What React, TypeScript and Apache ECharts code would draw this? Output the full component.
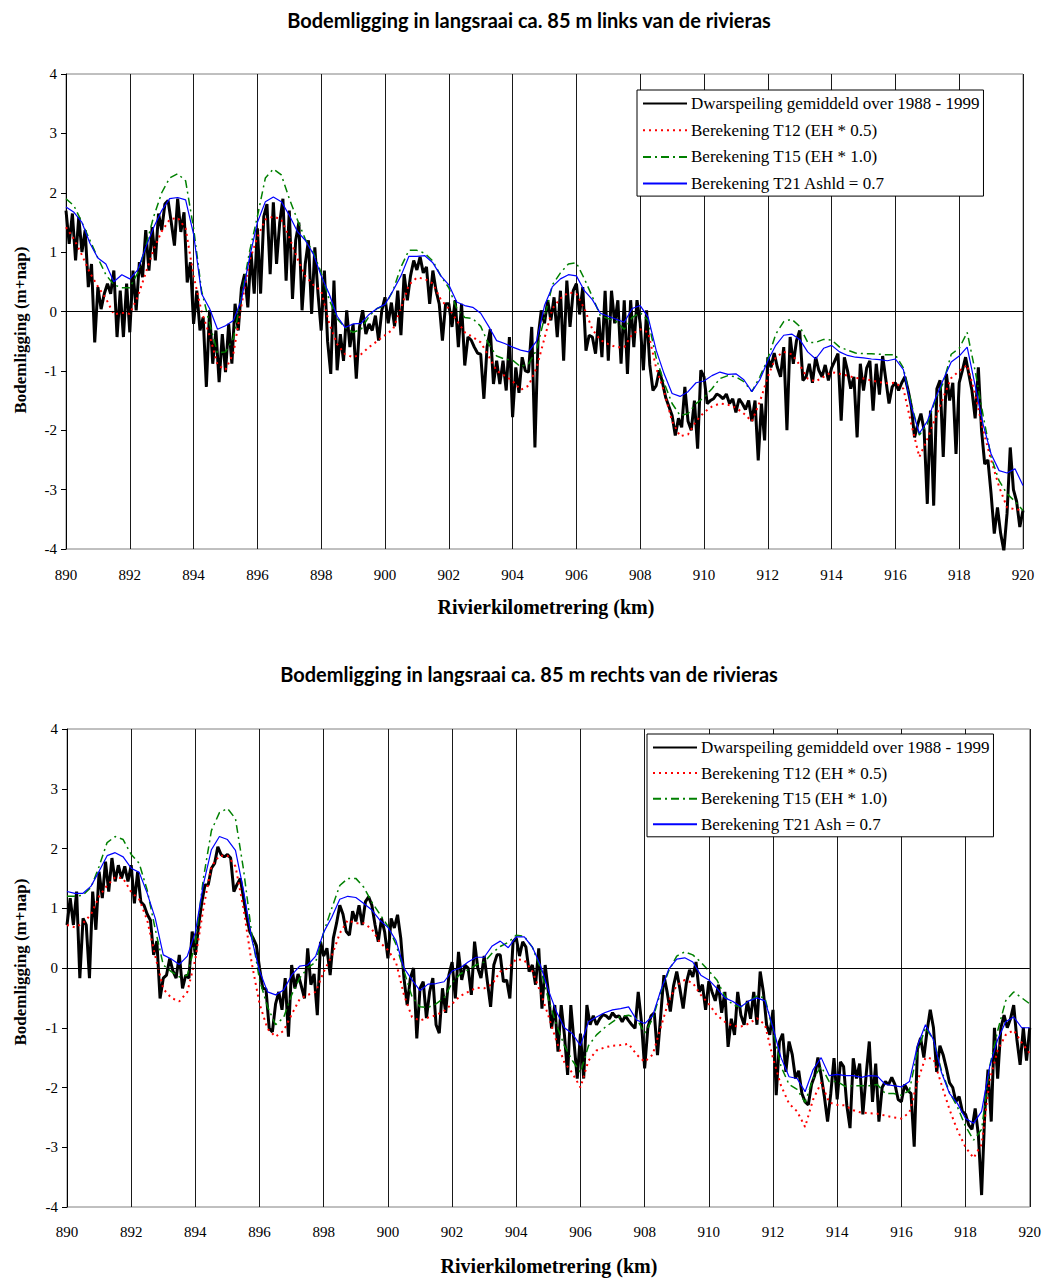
import React, { useEffect, useRef } from "react";
import * as echarts from "echarts";

// ---------- categories / axes ----------
const X_TICKS_MIN = 890;
const X_TICKS_MAX = 920;
const Y_MIN = -4;
const Y_MAX = 4;

const TITLE_TOP = "Bodemligging in langsraai ca. 85 m links van de rivieras";
const TITLE_BOT = "Bodemligging in langsraai ca. 85 m rechts van de rivieras";
const X_NAME = "Rivierkilometrering (km)";
const Y_NAME = "Bodemligging (m+nap)";

const NAME_MEAS = "Dwarspeiling gemiddeld over 1988 - 1999";
const NAME_T12 = "Berekening T12 (EH * 0.5)";
const NAME_T15 = "Berekening T15 (EH * 1.0)";
const NAME_T21_TOP = "Berekening T21 Ashld = 0.7";
const NAME_T21_BOT = "Berekening T21 Ash = 0.7";

// measured profile every 0.1 km (890.0 .. 920.0), model results every 0.25 km
const KM_MEAS = Array.from({ length: 301 }, (_, i) => Math.round((890 + i * 0.1) * 10) / 10);
const KM_MODEL = Array.from({ length: 121 }, (_, i) => 890 + i * 0.25);

// ---------- top chart (links) ----------
const topMeas = [
  1.7, 1.14, 1.65, 0.86, 1.59, 1.0, 1.37, 0.41, 0.8, -0.52,
  0.41, 0.04, 0.3, 0.47, 0.3, 0.69, -0.43, 0.35, -0.43, 0.47,
  -0.35, 0.69, 0.02, 0.83, 0.58, 1.37, 0.69, 1.42, 0.86, 1.65,
  1.37, 1.81, 1.87, 1.5, 1.11, 1.9, 1.34, 1.67, 0.49, 0.83,
  -0.21, 0.35, -0.32, -0.1, -1.27, 0.02, -0.88, -0.32, -1.19, -0.38,
  -1.02, -0.21, -0.88, 0.13, -0.32, 0.4, 0.63, 0.07, 1.0, 0.3,
  1.4, 0.3, 1.6, 1.81, 0.63, 1.84, 0.8, 1.5, 1.9, 0.52,
  1.7, 0.21, 1.2, 1.5, 0.02, 0.8, 1.2, -0.04, 1.08, 0.3,
  -0.32, 0.69, -0.5, -1.05, 0.52, -0.99, -0.38, -0.83, 0.02, -0.6,
  -0.21, -1.13, -0.26, 0.02, -0.38, -0.21, -0.32, -0.07, -0.49, 0.02,
  0.24, -0.2, 0.15, -0.25, 0.35, -0.4, 0.63, 0.19, 0.6, 0.86,
  0.7, 0.92, 0.65, 0.75, 0.13, 0.69, 0.35, 0.13, -0.49, 0.13,
  0.13, -0.26, 0.19, -0.6, 0.13, -0.91, -0.43, -0.48, -0.6, -0.7,
  -0.72, -1.47, -0.6, -0.3, -1.22, -0.83, -1.22, -0.83, -1.33, -0.43,
  -1.78, -0.94, -1.37, -0.77, -1.0, -1.02, -0.26, -2.29, -0.43, 0.02,
  -0.2, 0.19, -0.15, 0.24, -0.43, 0.35, -0.83, 0.52, -0.26, 0.35,
  0.47, -0.05, 0.41, -0.66, -0.4, -0.43, -0.71, -0.1, -0.77, 0.35,
  -0.83, 0.35, -0.2, 0.19, -0.88, 0.19, -1.05, 0.19, -0.6, 0.19,
  -0.2, -0.99, 0.02, -0.9, -1.33, -1.25, -0.99, -1.2, -1.45, -1.6,
  -1.75, -2.09, -1.8, -1.95, -1.27, -1.85, -2.0, -1.5, -2.31, -0.99,
  -1.1, -1.55, -1.5, -1.47, -1.39, -1.42, -1.47, -1.39, -1.55, -1.47,
  -1.7, -1.47, -1.55, -1.65, -1.5, -1.85, -1.5, -2.51, -1.55, -2.17,
  -0.77, -0.94, -0.7, -0.94, -1.1, -0.6, -2.0, -0.43, -0.88, -0.49,
  -0.32, -1.16, -1.1, -0.88, -1.2, -0.77, -0.99, -1.1, -0.9, -1.16,
  -0.95, -0.83, -0.71, -1.84, -0.77, -1.0, -1.3, -1.1, -2.12, -0.88,
  -1.33, -0.95, -0.83, -1.67, -0.88, -1.4, -0.75, -1.15, -1.55, -1.27,
  -1.2, -1.33, -1.2, -1.1, -1.33, -1.6, -2.12, -1.9, -1.72, -2.0,
  -3.24, -1.67, -3.27, -1.3, -1.16, -2.45, -1.05, -1.5, -1.2, -2.4,
  -1.2, -0.99, -0.77, -1.05, -1.33, -1.8, -0.94, -2.0, -2.57, -2.5,
  -3.07, -3.74, -3.3, -3.74, -4.03, -3.4, -2.29, -3.0, -3.2, -3.63,
  -3.35,
];

const topT12 = [
  1.42, 1.22, 0.95, 0.65, 0.42, 0.22, -0.05, -0.02,
  -0.04, 0.25, 0.65, 1.05, 1.35, 1.55, 1.58, 1.4,
  0.6, 0.0, -0.4, -0.9, -0.98, -0.7, 0.1, 0.85,
  1.25, 1.55, 1.6, 1.55, 1.25, 0.9, 0.6, 0.45,
  0.35, -0.2, -0.55, -0.72, -0.77, -0.72, -0.6, -0.5,
  -0.4, -0.3, 0.05, 0.45, 0.57, 0.55, 0.47, 0.2,
  0.05, -0.15, -0.35, -0.43, -0.52, -0.75, -1.0, -1.08,
  -1.17, -1.32, -1.25, -0.95, -0.45, 0.05, 0.22, 0.32,
  0.3, 0.05, -0.3, -0.48, -0.55, -0.6, -0.6, -0.38,
  -0.3, -0.35, -0.95, -1.35, -1.85, -2.1, -2.07, -1.85,
  -1.7, -1.6, -1.55, -1.57, -1.62, -1.72, -1.85, -1.52,
  -1.1, -0.77, -0.68, -0.72, -0.9, -1.13, -1.18, -1.1,
  -1.02, -1.05, -1.08, -1.12, -1.13, -1.16, -1.19, -1.21,
  -1.2, -1.3, -1.9, -2.45, -2.15, -1.8, -1.45, -1.12,
  -1.0, -0.9, -1.4, -2.0, -2.5, -2.95, -3.3, -3.33,
  -3.35,
];

const topT15 = [
  1.9, 1.78, 1.5, 1.2, 0.9, 0.62, 0.45, 0.4,
  0.4, 0.65, 1.1, 1.6, 2.0, 2.25, 2.32, 2.2,
  1.4, 0.35, -0.2, -0.7, -0.68, -0.45, 0.25, 1.0,
  1.6, 2.25, 2.4, 2.3, 1.9, 1.55, 1.22, 1.0,
  0.65, 0.2, -0.12, -0.27, -0.35, -0.3, -0.08, 0.05,
  0.1, 0.35, 0.75, 1.03, 1.03, 0.98, 0.85, 0.6,
  0.4, 0.05, -0.1, -0.12, -0.25, -0.55, -0.75, -0.8,
  -0.82, -0.93, -0.88, -0.65, -0.1, 0.45, 0.65, 0.8,
  0.82, 0.55, 0.25, -0.07, -0.12, -0.17, -0.3, -0.1,
  -0.02, -0.15, -0.78, -1.2, -1.55, -1.75, -1.72, -1.55,
  -1.45, -1.3, -1.13, -1.08, -1.1, -1.18, -1.35, -1.1,
  -0.8, -0.38, -0.17, -0.13, -0.25, -0.52, -0.52, -0.47,
  -0.48, -0.6, -0.65, -0.7, -0.71, -0.71, -0.72, -0.73,
  -0.73, -0.95, -1.55, -2.08, -1.9, -1.5, -1.2, -0.72,
  -0.62, -0.35, -1.0, -1.75, -2.45, -2.85, -3.07, -3.2,
  -3.35,
];

const topT21 = [
  1.76, 1.67, 1.5, 1.15, 0.9, 0.8, 0.5, 0.62,
  0.55, 0.7, 1.08, 1.42, 1.7, 1.9, 1.92, 1.88,
  1.3, 0.3, 0.05, -0.3, -0.24, -0.15, 0.2, 0.9,
  1.5, 1.85, 1.93, 1.85, 1.62, 1.35, 1.2, 0.97,
  0.6, 0.3, -0.08, -0.27, -0.21, -0.2, -0.05, 0.05,
  0.12, 0.35, 0.6, 0.93, 0.93, 0.94, 0.82, 0.6,
  0.45, 0.16, 0.1, 0.07, -0.03, -0.25, -0.49, -0.54,
  -0.6, -0.65, -0.68, -0.5, 0.1, 0.42, 0.55, 0.62,
  0.6, 0.35, 0.2, -0.03, -0.08, -0.13, -0.18, 0.05,
  0.1, -0.1, -0.65, -1.05, -1.38, -1.43, -1.35, -1.2,
  -1.17, -1.08, -1.02, -1.06, -1.05, -1.15, -1.35, -1.15,
  -0.83, -0.57, -0.4, -0.38, -0.47, -0.68, -0.8, -0.62,
  -0.57, -0.68, -0.74, -0.77, -0.78, -0.8, -0.81, -0.83,
  -0.8, -0.98, -1.61, -2.05, -1.85, -1.47, -1.15, -0.85,
  -0.75, -0.6, -1.25, -1.9, -2.4, -2.68, -2.72, -2.65,
  -2.93,
];

// ---------- bottom chart (rechts) ----------
const botMeas = [
  0.72, 1.17, 0.72, 1.28, -0.17, 0.83, 0.72, -0.17, 1.28, 0.64,
  1.61, 1.17, 1.78, 1.28, 1.84, 1.45, 1.72, 1.5, 1.7, 1.45,
  1.72, 1.08, 1.61, 1.11, 1.05, 0.9, 0.8, 0.22, 0.45, -0.51,
  -0.17, -0.12, 0.16, -0.05, -0.17, 0.22, -0.34, -0.12, -0.17, 0.61,
  0.22, 0.7, 1.1, 1.39, 1.39, 1.67, 1.75, 2.03, 1.9, 1.86,
  1.9, 1.84, 1.28, 1.4, 1.5, 1.17, 0.85, 0.6, 0.5, 0.38,
  0.0, -0.34, -0.35, -1.01, -1.07, -0.6, -0.4, -0.7, -0.17, -1.15,
  0.05, -0.34, -0.1, -0.3, -0.51, 0.33, -0.28, -0.1, -0.79, 0.44,
  0.2, 0.33, -0.12, 0.5, 0.75, 1.05, 0.9, 0.61, 0.55, 0.95,
  0.78, 1.05, 0.72, 1.11, 1.19, 1.05, 0.72, 0.44, 0.83, 0.6,
  0.16, 0.83, 0.67, 0.89, 0.5, -0.17, -0.62, -0.17, 0.0, -1.18,
  -0.34, -0.23, -0.84, -0.4, -0.17, -0.95, -1.09, -0.34, -0.75, -0.12,
  0.1, -0.51, 0.27, -0.2, 0.05, 0.0, -0.45, 0.44, 0.0, -0.17,
  0.2, -0.23, -0.65, 0.05, 0.22, 0.22, -0.23, -0.2, -0.51, 0.44,
  0.5, 0.2, 0.44, 0.35, -0.06, 0.05, -0.28, 0.33, -0.68, 0.05,
  -0.4, -1.01, -0.62, -1.4, -0.62, -1.12, -1.79, -0.62, -1.25, -1.85,
  -1.1, -1.85, -0.62, -0.95, -0.8, -0.95, -0.85, -0.78, -0.8, -0.85,
  -0.75, -0.82, -0.8, -0.9, -0.8, -0.88, -0.95, -1.01, -0.4, -0.9,
  -1.68, -1.0, -0.8, -0.75, -1.46, -0.8, -0.12, -0.4, -0.73, -0.3,
  -0.06, -0.35, -0.68, -0.25, -0.03, -0.15, 0.1, -0.4, -0.28, -0.7,
  -0.22, -0.4, -0.55, -0.28, -0.75, -0.4, -1.32, -0.85, -1.12, -0.4,
  -0.79, -0.95, -0.55, -0.85, -0.4, -0.95, -0.06, -0.4, -0.95, -1.12,
  -0.7, -2.13, -1.23, -1.1, -1.74, -1.23, -1.45, -1.85, -1.72, -2.1,
  -2.24, -2.29, -1.95, -1.8, -1.5, -1.8, -2.15, -2.57, -2.1, -1.51,
  -2.2, -1.57, -1.65, -2.3, -2.68, -1.51, -1.85, -1.6, -2.45, -1.8,
  -1.23, -2.24, -1.6, -2.57, -2.0, -1.9, -1.95, -1.83, -1.95, -2.2,
  -2.24, -1.95, -2.05, -2.1, -2.99, -1.35, -1.17, -1.5, -1.05, -0.7,
  -1.0, -1.74, -1.3, -1.45, -1.67, -1.92, -2.0, -2.24, -2.15, -2.4,
  -2.45, -2.63, -2.7, -2.35, -2.8, -3.8, -2.4, -1.7, -2.57, -1.0,
  -1.85, -1.0, -0.79, -1.0, -0.85, -0.62, -1.2, -1.62, -1.0, -1.55,
  -1.0,
];

const botT12 = [
  0.72, 0.68, 0.75, 0.9, 1.2, 1.38, 1.52, 1.5,
  1.27, 1.15, 0.8, 0.2, -0.35, -0.5, -0.56, -0.4,
  0.15, 1.0, 1.7, 1.88, 1.88, 1.7, 1.0, 0.1,
  -0.6, -1.02, -1.15, -1.05, -0.78, -0.52, -0.45, -0.4,
  -0.06, 0.2, 0.58, 0.8, 0.75, 0.75, 0.65, 0.43,
  0.3, 0.1, -0.45, -0.82, -0.88, -0.83, -0.79, -0.72,
  -0.6, -0.47, -0.4, -0.33, -0.34, -0.27, -0.06, 0.0,
  0.15, 0.13, -0.05, -0.4, -0.8, -1.22, -1.58, -1.76,
  -2.0, -1.55, -1.38, -1.33, -1.3, -1.29, -1.27, -1.45,
  -1.57, -1.45, -1.0, -0.55, -0.29, -0.2, -0.25, -0.45,
  -0.6, -0.79, -0.9, -0.97, -0.98, -0.93, -0.84, -0.95,
  -1.51, -1.97, -2.27, -2.4, -2.66, -2.2, -1.92, -2.25,
  -2.29, -2.3, -2.38, -2.42, -2.43, -2.44, -2.47, -2.5,
  -2.52, -2.42, -1.9, -1.5, -1.52, -1.95, -2.37, -2.72,
  -3.0, -3.18, -2.95, -1.88, -1.38, -1.12, -1.04, -1.25,
  -1.43,
];

const botT15 = [
  1.2, 1.2, 1.22, 1.35, 1.7, 2.1, 2.2, 2.15,
  1.9, 1.75, 1.3, 0.65, 0.05, -0.06, -0.15, -0.12,
  0.42, 1.5, 2.3, 2.6, 2.67, 2.5, 1.65, 0.6,
  -0.2, -0.65, -0.95, -0.83, -0.45, -0.17, 0.0, 0.1,
  0.6, 1.0, 1.38, 1.5, 1.5, 1.35, 1.1, 0.9,
  0.7, 0.4, -0.05, -0.48, -0.65, -0.66, -0.6, -0.5,
  -0.25, -0.1, -0.03, 0.05, 0.1, 0.25, 0.36, 0.43,
  0.55, 0.53, 0.35, 0.0, -0.52, -0.95, -1.3, -1.55,
  -1.75, -1.3, -1.12, -1.0, -0.9, -0.81, -0.79, -0.85,
  -1.09, -0.85, -0.4, -0.05, 0.2, 0.27, 0.22, 0.1,
  -0.05, -0.2, -0.47, -0.62, -0.65, -0.56, -0.47, -0.5,
  -1.05, -1.65, -1.95, -2.03, -2.25, -1.85, -1.65, -1.9,
  -1.9, -1.98, -1.97, -1.97, -1.97, -1.95, -2.1, -2.1,
  -2.13, -2.05, -1.4, -1.0, -1.2, -1.72, -2.08, -2.33,
  -2.65, -2.88, -2.7, -1.65, -1.05, -0.55, -0.4, -0.5,
  -0.6,
];

const botT21 = [
  1.28, 1.25, 1.25, 1.37, 1.62, 1.88, 1.93, 1.86,
  1.67, 1.6, 1.25, 0.83, 0.22, 0.15, 0.06, 0.2,
  0.6, 1.4, 1.98, 2.2, 2.15, 1.97, 1.3, 0.5,
  -0.05, -0.4, -0.45, -0.37, -0.12, 0.03, 0.05, 0.2,
  0.6, 0.85, 1.15, 1.2, 1.18, 1.08, 0.97, 0.8,
  0.68, 0.46, 0.0, -0.2, -0.38, -0.27, -0.26, -0.23,
  -0.05, 0.0, 0.1, 0.18, 0.18, 0.37, 0.45, 0.34,
  0.52, 0.52, 0.35, 0.05, -0.37, -0.73, -1.0, -1.1,
  -1.3, -0.9, -0.82, -0.75, -0.7, -0.68, -0.65, -0.87,
  -0.93, -0.8, -0.38, -0.02, 0.15, 0.17, 0.1, -0.12,
  -0.2, -0.34, -0.5, -0.56, -0.65, -0.55, -0.5, -0.55,
  -1.0, -1.5, -1.82, -1.85, -2.07, -1.7, -1.5, -1.8,
  -1.78, -1.8, -1.8, -1.83, -1.8, -1.81, -1.95, -1.97,
  -1.99, -1.9, -1.3, -0.95, -1.2, -1.75, -2.1, -2.27,
  -2.52, -2.6, -2.4, -1.65, -1.2, -0.9, -0.82, -1.0,
  -1.0,
];

// ---------- styling ----------
const SERIF = "'Liberation Serif', 'Times New Roman', serif";
const SANS_TITLE = "Lato, 'Open Sans', sans-serif";

const pairs = (xs: number[], ys: number[]) => xs.map((x, i) => [x, ys[i]]);

function lineSeries(name: string, idx: number, xs: number[], ys: number[], style: any, z: number) {
  return {
    type: "line",
    name,
    xAxisIndex: idx,
    yAxisIndex: idx,
    data: pairs(xs, ys),
    showSymbol: false,
    symbol: "none",
    lineStyle: style,
    itemStyle: { color: style.color },
    z,
    silent: true,
  };
}

const STYLE_MEAS = { color: "#000000", width: 3 };
const STYLE_T12 = { color: "#ff0000", width: 2, type: [2, 4] };
const STYLE_T15 = { color: "#008000", width: 1.5, type: [8, 4, 2, 4] };
const STYLE_T21 = { color: "#0000ff", width: 1.2 };

function xAxisCfg(idx: number, margin: number) {
  return {
    type: "value",
    gridIndex: idx,
    min: X_TICKS_MIN,
    max: X_TICKS_MAX,
    interval: 2,
    axisLine: { show: true, lineStyle: { color: "#808080", width: 1 } },
    axisTick: { show: false },
    axisLabel: { fontFamily: SERIF, fontSize: 15, color: "#000", margin },
    splitLine: { show: true, lineStyle: { color: "#1a1a1a", width: 1 } },
  };
}

function yAxisCfg(idx: number) {
  return {
    type: "value",
    gridIndex: idx,
    min: Y_MIN,
    max: Y_MAX,
    interval: 1,
    axisLine: { show: true, lineStyle: { color: "#000", width: 1 } },
    axisTick: { show: true, length: 5, lineStyle: { color: "#000" } },
    axisLabel: { fontFamily: SERIF, fontSize: 15, color: "#000", margin: 9 },
    splitLine: { show: false },
  };
}

function zeroLine(idx: number) {
  return {
    type: "line",
    name: "zero" + idx,
    xAxisIndex: idx,
    yAxisIndex: idx,
    data: [],
    silent: true,
    z: 1,
    markLine: {
      silent: true,
      symbol: "none",
      label: { show: false },
      lineStyle: { color: "#000", width: 1, type: "solid" },
      data: [{ yAxis: 0 }],
    },
  };
}

function legendCfg(left: number, top: number, names: string[], gap: number, padTop: number) {
  return {
    show: true,
    orient: "vertical",
    left,
    top,
    data: names,
    itemWidth: 44,
    itemHeight: 10,
    itemGap: gap,
    selectedMode: false,
    padding: [padTop, 4, 4, 5],
    borderColor: "#000",
    borderWidth: 1,
    backgroundColor: "#fff",
    itemStyle: { opacity: 0, borderWidth: 0 },
    textStyle: { fontFamily: SERIF, fontSize: 17, color: "#000", padding: [0, 0, 0, -1] },
  };
}

function textEl(text: string, x: number, y: number, font: string, rotation = 0) {
  return {
    type: "text",
    x,
    y,
    rotation,
    silent: true,
    style: {
      text,
      font,
      fill: "#000",
      align: "center",
      verticalAlign: "middle",
      textAlign: "center",
      textVerticalAlign: "middle",
    },
  };
}

export default function App() {
  const ref = useRef<HTMLDivElement>(null);

  useEffect(() => {
    if (!ref.current) return;
    const chart = echarts.init(ref.current, undefined, { renderer: "svg" });
    const option: any = {
      animation: false,
      backgroundColor: "#ffffff",
      grid: [
        { left: 66, top: 74, width: 957, height: 475, show: true, borderColor: "#808080", borderWidth: 1, backgroundColor: "transparent" },
        { left: 67, top: 729, width: 963, height: 478, show: true, borderColor: "#808080", borderWidth: 1, backgroundColor: "transparent" },
      ],
      xAxis: [xAxisCfg(0, 18), xAxisCfg(1, 17)],
      yAxis: [yAxisCfg(0), yAxisCfg(1)],
      legend: [
        legendCfg(637, 90, [NAME_MEAS, NAME_T12, NAME_T15, NAME_T21_TOP], 9.7, 5),
        legendCfg(647, 734, [NAME_MEAS, NAME_T12, NAME_T15, NAME_T21_BOT], 8.6, 5),
      ],
      graphic: [
        textEl(TITLE_TOP, 529, 20, `bold 20px ${SANS_TITLE}`),
        textEl(TITLE_BOT, 529, 674, `bold 20px ${SANS_TITLE}`),
        textEl(X_NAME, 546, 607, `bold 20px ${SERIF}`),
        textEl(X_NAME, 549, 1266, `bold 20px ${SERIF}`),
        textEl(Y_NAME, 20, 330, `bold 17px ${SERIF}`, Math.PI / 2),
        textEl(Y_NAME, 20, 962, `bold 17px ${SERIF}`, Math.PI / 2),
      ],
      series: [
        zeroLine(0),
        zeroLine(1),
        lineSeries(NAME_MEAS, 0, KM_MEAS, topMeas, STYLE_MEAS, 2),
        lineSeries(NAME_T12, 0, KM_MODEL, topT12, STYLE_T12, 3),
        lineSeries(NAME_T15, 0, KM_MODEL, topT15, STYLE_T15, 4),
        lineSeries(NAME_T21_TOP, 0, KM_MODEL, topT21, STYLE_T21, 5),
        lineSeries(NAME_MEAS, 1, KM_MEAS, botMeas, STYLE_MEAS, 2),
        lineSeries(NAME_T12, 1, KM_MODEL, botT12, STYLE_T12, 3),
        lineSeries(NAME_T15, 1, KM_MODEL, botT15, STYLE_T15, 4),
        lineSeries(NAME_T21_BOT, 1, KM_MODEL, botT21, STYLE_T21, 5),
      ],
    };
    chart.setOption(option);
    return () => chart.dispose();
  }, []);

  return (
    <div
      ref={ref}
      style={{ position: "absolute", left: 0, top: 0, width: 1044, height: 1280, background: "#fff" }}
    />
  );
}
